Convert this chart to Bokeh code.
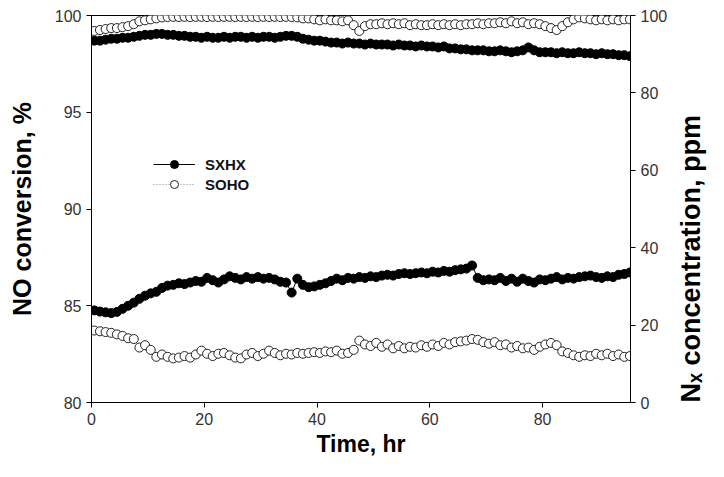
import math
from bokeh.plotting import figure
from bokeh.models import Range1d, LinearAxis, FixedTicker, Legend, LegendItem
from bokeh.embed import file_html
from bokeh.resources import INLINE

hours = [0.5, 1.5, 2.5, 3.5, 4.5, 5.5, 6.5, 7.5, 8.5, 9.5,
         10.5, 11.5, 12.5, 13.5, 14.5, 15.5, 16.5, 17.5, 18.5, 19.5,
         20.5, 21.5, 22.5, 23.5, 24.5, 25.5, 26.5, 27.5, 28.5, 29.5,
         30.5, 31.5, 32.5, 33.5, 34.5, 35.5, 36.5, 37.5, 38.5, 39.5,
         40.5, 41.5, 42.5, 43.5, 44.5, 45.5, 46.5, 47.5, 48.5, 49.5,
         50.5, 51.5, 52.5, 53.5, 54.5, 55.5, 56.5, 57.5, 58.5, 59.5,
         60.5, 61.5, 62.5, 63.5, 64.5, 65.5, 66.5, 67.5, 68.5, 69.5,
         70.5, 71.5, 72.5, 73.5, 74.5, 75.5, 76.5, 77.5, 78.5, 79.5,
         80.5, 81.5, 82.5, 83.5, 84.5, 85.5, 86.5, 87.5, 88.5, 89.5,
         90.5, 91.5, 92.5, 93.5, 94.5, 95.5]

# NO conversion, %
sxhx_no = [98.70, 98.70, 98.75, 98.80, 98.80, 98.85, 98.85, 98.90, 98.95, 99.00,
           99.00, 99.05, 99.05, 99.00, 99.00, 98.95, 98.95, 98.90, 98.90, 98.85,
           98.90, 98.85, 98.85, 98.90, 98.85, 98.90, 98.90, 98.85, 98.90, 98.85,
           98.90, 98.90, 98.85, 98.90, 98.95, 98.95, 98.90, 98.80, 98.75, 98.70,
           98.70, 98.65, 98.60, 98.60, 98.55, 98.60, 98.55, 98.55, 98.50, 98.55,
           98.50, 98.50, 98.50, 98.45, 98.50, 98.45, 98.45, 98.40, 98.45, 98.40,
           98.40, 98.35, 98.40, 98.30, 98.30, 98.25, 98.25, 98.20, 98.20, 98.20,
           98.15, 98.15, 98.20, 98.15, 98.10, 98.15, 98.20, 98.35, 98.20, 98.10,
           98.10, 98.10, 98.05, 98.10, 98.05, 98.05, 98.10, 98.05, 98.05, 98.00,
           98.05, 98.00, 98.00, 97.95, 97.95, 97.90]
soho_no = [99.20, 99.25, 99.30, 99.35, 99.35, 99.40, 99.45, 99.55, 99.70, 99.75,
           99.80, 99.85, 99.90, 99.92, 99.93, 99.92, 99.93, 99.92, 99.93, 99.93,
           99.92, 99.93, 99.92, 99.93, 99.93, 99.92, 99.93, 99.92, 99.93, 99.92,
           99.93, 99.92, 99.93, 99.92, 99.93, 99.92, 99.90, 99.85, 99.85, 99.80,
           99.75, 99.80, 99.75, 99.75, 99.70, 99.75, 99.50, 99.20, 99.45, 99.55,
           99.55, 99.60, 99.55, 99.60, 99.55, 99.60, 99.50, 99.55, 99.50, 99.50,
           99.55, 99.50, 99.55, 99.50, 99.55, 99.50, 99.55, 99.55, 99.60, 99.55,
           99.60, 99.60, 99.65, 99.60, 99.70, 99.60, 99.65, 99.55, 99.60, 99.55,
           99.45, 99.35, 99.25, 99.45, 99.65, 99.80, 99.90, 99.85, 99.80, 99.75,
           99.80, 99.75, 99.80, 99.75, 99.80, 99.80]

# Nx concentration, ppm
sxhx_nx = [23.8, 23.5, 23.3, 23.1, 23.4, 24.2, 25.0, 25.8, 26.8, 27.6,
           28.2, 28.6, 29.6, 30.2, 30.4, 30.8, 30.6, 31.0, 31.4, 31.2,
           32.2, 31.6, 31.0, 31.8, 32.6, 32.2, 31.8, 32.4, 32.0, 32.4,
           32.0, 32.2, 31.8, 31.2, 31.0, 28.4, 32.0, 30.4, 29.8, 30.0,
           30.4, 30.8, 31.4, 32.0, 31.6, 32.2, 32.0, 32.4, 32.2, 32.6,
           32.4, 32.8, 33.0, 32.8, 33.2, 33.4, 33.2, 33.4, 33.6, 33.4,
           33.8, 33.6, 34.0, 33.8, 34.2, 34.4, 34.6, 35.4, 32.2, 31.6,
           31.8, 31.6, 32.2, 31.4, 32.0, 31.2, 32.0, 31.4, 31.0, 31.8,
           31.6, 32.0, 32.4, 31.8, 32.2, 32.0, 32.4, 32.6, 32.8, 32.4,
           32.2, 32.6, 32.4, 33.0, 33.2, 33.6]
soho_nx = [18.6, 18.4, 18.2, 18.0, 17.6, 17.2, 16.6, 16.4, 14.2, 14.8,
           13.6, 11.8, 12.4, 11.8, 11.4, 11.6, 12.0, 11.6, 12.4, 13.4,
           12.6, 12.0, 12.6, 12.8, 12.2, 11.6, 11.4, 12.4, 12.8, 12.0,
           12.6, 13.4, 12.8, 12.2, 12.6, 12.4, 12.8, 12.6, 12.8, 13.0,
           12.8, 13.2, 13.0, 13.4, 12.6, 12.8, 13.6, 16.0, 15.0, 14.6,
           15.4, 14.4, 15.0, 14.0, 14.6, 14.0, 14.4, 14.2, 14.8, 14.4,
           15.0, 14.6, 15.4, 15.0, 15.6, 15.8, 16.0, 16.4, 16.2, 15.6,
           15.2, 15.6, 14.8, 15.0, 14.2, 14.6, 14.0, 14.2, 13.6, 14.4,
           15.0, 15.4, 14.8, 13.2, 12.8, 12.2, 11.8, 12.2, 12.0, 12.6,
           12.2, 12.6, 12.0, 12.4, 11.8, 12.0]

x_ticks = [0, 20, 40, 60, 80]
left_ticks = [80, 85, 90, 95, 100]
right_ticks = [0, 20, 40, 60, 80, 100]

x_title = "Time, hr"
left_title = "NO conversion, %"
right_title = "N\u2093 concentration, ppm"

FONT = "Liberation Sans"
TICK_SIZE = "16px"
TICK_COLOR = "#333333"

p = figure(width=724, height=477, x_range=Range1d(0, 95.6), y_range=Range1d(80, 100),
           output_backend="svg", toolbar_location=None,
           min_border_left=91, min_border_right=92, min_border_top=15, min_border_bottom=75)
p.extra_y_ranges = {"nx": Range1d(0, 100)}
p.xgrid.visible = False
p.ygrid.visible = False
p.outline_line_color = "black"
p.outline_line_width = 1
p.background_fill_color = "white"
p.border_fill_color = "white"

def style_axis(ax, ticks, label, size, standoff):
    ax.ticker = FixedTicker(ticks=ticks)
    ax.major_label_text_font = FONT
    ax.major_label_text_font_size = TICK_SIZE
    ax.major_label_text_color = TICK_COLOR
    ax.major_tick_out = 5
    ax.major_tick_in = 0
    ax.minor_tick_line_color = None
    ax.axis_line_color = "black"
    ax.major_tick_line_color = "black"
    ax.axis_label = label
    ax.axis_label_text_font = FONT
    ax.axis_label_text_font_size = size
    ax.axis_label_text_font_style = "bold"
    ax.axis_label_text_color = "black"
    ax.axis_label_standoff = standoff

style_axis(p.below[0], x_ticks, x_title, "23px", 3)
style_axis(p.left[0], left_ticks, left_title, "25px", 16)
right_axis = LinearAxis(y_range_name="nx")
p.add_layout(right_axis, "right")
style_axis(right_axis, right_ticks, right_title, "27px", 21)
right_axis.axis_label_orientation = math.pi / 2
right_axis.axis_label_align = "start"

MS = 9
# NO conversion series
l1 = p.line(hours, sxhx_no, line_color="black", line_width=1)
s1 = p.scatter(hours, sxhx_no, size=MS, marker="circle", fill_color="black", line_color="black")
l2 = p.line(hours, soho_no, line_color="#888888", line_width=1, line_dash="1 2")
s2 = p.scatter(hours, soho_no, size=MS, marker="circle", fill_color="white", line_color="#222222", line_width=1)
# Nx concentration series
p.line(hours, sxhx_nx, line_color="black", line_width=1, y_range_name="nx")
p.scatter(hours, sxhx_nx, size=MS, marker="circle", fill_color="black", line_color="black", y_range_name="nx")
p.line(hours, soho_nx, line_color="#888888", line_width=1, line_dash="1 2", y_range_name="nx")
p.scatter(hours, soho_nx, size=MS, marker="circle", fill_color="white", line_color="#222222", line_width=1, y_range_name="nx")

legend = Legend(items=[LegendItem(label="SXHX", renderers=[l1, s1]),
                       LegendItem(label="SOHO", renderers=[l2, s2])],
                location=(62, 208), orientation="vertical")
legend.border_line_color = None
legend.background_fill_alpha = 0
legend.padding = 0
legend.margin = 0
legend.spacing = 0
legend.glyph_width = 42
legend.glyph_height = 20
legend.label_height = 20
legend.label_standoff = 10
legend.label_text_font = FONT
legend.label_text_font_size = "15px"
legend.label_text_font_style = "bold"
legend.label_text_color = "#111111"
p.add_layout(legend, "center")

open("out.html", "w").write(file_html(p, INLINE))
